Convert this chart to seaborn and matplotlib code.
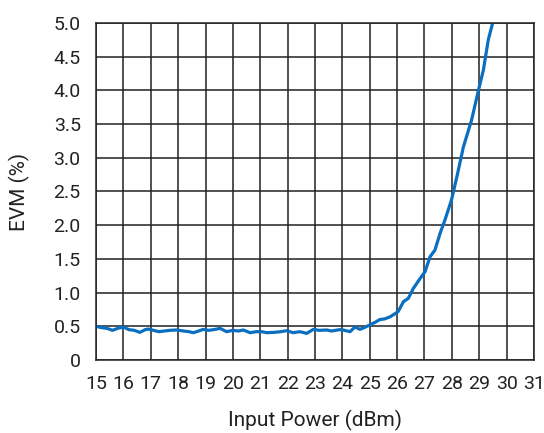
import matplotlib
matplotlib.use('Agg')
import matplotlib.pyplot as plt
import seaborn as sns
import pandas as pd

# EVM vs input power
power = [15.0, 15.2, 15.4, 15.6, 15.8, 16.0, 16.2, 16.4, 16.6, 16.8, 16.9, 17.1, 17.3, 17.5,
         17.7, 17.95, 18.2, 18.4, 18.55, 18.75, 18.92, 19.1, 19.3, 19.53, 19.77, 20.0, 20.2,
         20.38, 20.63, 20.85, 21.05, 21.23, 21.5, 21.75, 21.97, 22.2, 22.45, 22.7, 22.94,
         23.15, 23.43, 23.6, 23.9, 24.03, 24.28, 24.46, 24.64, 24.8, 25.0, 25.2, 25.37,
         25.55, 25.74, 25.9, 26.04, 26.23, 26.41, 26.59, 26.84, 27.02, 27.2, 27.38, 27.57,
         27.75, 27.99, 28.2, 28.42, 28.72, 28.97, 29.15, 29.27, 29.33, 29.49]
evm = [0.50, 0.48, 0.47, 0.44, 0.47, 0.49, 0.45, 0.44, 0.41, 0.45, 0.46, 0.44, 0.42, 0.43,
       0.44, 0.445, 0.43, 0.42, 0.405, 0.43, 0.455, 0.44, 0.45, 0.47, 0.42, 0.44, 0.43,
       0.445, 0.405, 0.42, 0.42, 0.405, 0.41, 0.42, 0.435, 0.405, 0.42, 0.395, 0.455,
       0.44, 0.445, 0.43, 0.45, 0.445, 0.42, 0.49, 0.455, 0.48, 0.52, 0.56, 0.60,
       0.61, 0.64, 0.68, 0.72, 0.865, 0.915, 1.06, 1.21, 1.31, 1.53, 1.63, 1.88,
       2.08, 2.38, 2.75, 3.16, 3.56, 4.0, 4.30, 4.6, 4.75, 5.0]

x_ticks = list(range(15, 32))
y_ticks = [0, 0.5, 1.0, 1.5, 2.0, 2.5, 3.0, 3.5, 4.0, 4.5, 5.0]
y_labels = ['0', '0.5', '1.0', '1.5', '2.0', '2.5', '3.0', '3.5', '4.0', '4.5', '5.0']

sns.set_style('white')
plt.rcParams['font.family'] = ['Roboto', 'DejaVu Sans']

df = pd.DataFrame({'power': power, 'evm': evm})

fig = plt.figure(figsize=(5.44, 4.33), dpi=100)
ax = fig.add_axes([0.1765, 0.1686, 0.8051, 0.7783])
sns.lineplot(data=df, x='power', y='evm', ax=ax, color='#0a6fc0', linewidth=2.3)

ax.set_xlim(15, 31)
ax.set_ylim(0, 5.0)
ax.set_xticks(x_ticks)
ax.set_yticks(y_ticks)
ax.set_yticklabels(y_labels)
ax.grid(True, color='#222222', linewidth=1.1)
ax.set_axisbelow(True)
for s in ax.spines.values():
    s.set_color('#222222')
    s.set_linewidth(1.1)
ax.tick_params(length=0, labelsize=14, colors='#222222', pad=11)
ax.set_xlabel('Input Power (dBm)', fontsize=15, color='#222222', labelpad=12)
ax.set_ylabel('EVM (%)', fontsize=15, color='#222222', labelpad=17)

fig.savefig('out.png', dpi=100)
